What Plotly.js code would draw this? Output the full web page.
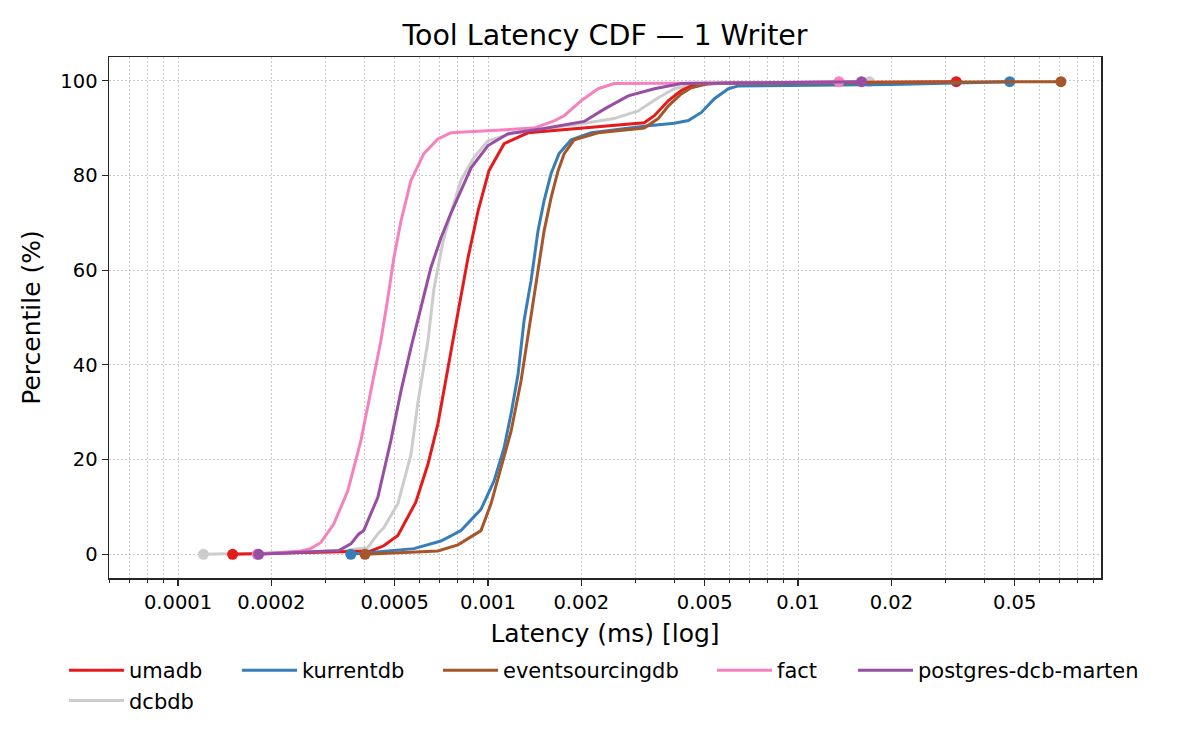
<!DOCTYPE html>
<html>
<head>
<meta charset="utf-8">
<script src="https://cdn.plot.ly/plotly-3.0.1.min.js"></script>
<style>
  html, body { margin: 0; padding: 0; background: #ffffff; }
  #chart { width: 1200px; height: 750px; }
</style>
</head>
<body>
<div id="chart"></div>
<script>
// latency values in ms, percentile values in %
const umadbLatency = [0.000150, 0.000419, 0.000461, 0.000512, 0.000585, 0.000640, 0.000689, 0.000743, 0.000800, 0.000862, 0.000929, 0.001007, 0.001127, 0.001346, 0.002, 0.00319, 0.00344, 0.00382, 0.0042, 0.00463, 0.006, 0.0324];
const umadbPct = [0, 0.7, 1.8, 4, 11, 19, 27.5, 39, 51, 62.6, 72.5, 81, 86.7, 89, 89.9, 91.1, 92.6, 95.8, 97.9, 99.2, 99.5, 99.8];

const kurrentdbLatency = [0.000361, 0.000577, 0.000705, 0.000818, 0.000949, 0.001046, 0.001127, 0.001187, 0.00125, 0.001307, 0.001377, 0.00145, 0.001517, 0.001598, 0.001695, 0.001854, 0.002152, 0.003289, 0.00399, 0.004427, 0.004878, 0.005373, 0.005961, 0.006423, 0.02, 0.0482];
const kurrentdbPct = [0, 1.2, 2.8, 5, 9.5, 15.5, 22.5, 29.7, 38, 49.3, 57.8, 68.3, 74.7, 80.4, 84.6, 87.5, 89, 90.5, 91, 91.6, 93.3, 96.2, 98.3, 98.9, 99.2, 99.8];

const eventsourcingdbLatency = [0.000401, 0.000689, 0.0008, 0.000949, 0.001023, 0.001102, 0.001187, 0.001278, 0.001377, 0.00145, 0.001517, 0.001598, 0.001683, 0.001761, 0.001896, 0.002266, 0.00319, 0.00354, 0.00382, 0.0042, 0.00453, 0.00514, 0.0705];
const eventsourcingdbPct = [0, 0.7, 2, 5, 10.7, 18.3, 26, 36.6, 50.8, 59.9, 68.3, 75.3, 81, 84.6, 87.5, 89, 90, 92, 94.7, 97.2, 98.5, 99.4, 99.8];

const factLatency = [0.00018, 0.000249, 0.000268, 0.000289, 0.000318, 0.000353, 0.000389, 0.000419, 0.000451, 0.000475, 0.000497, 0.000524, 0.000564, 0.000621, 0.000689, 0.000759, 0.001408, 0.001634, 0.001761, 0.002, 0.002266, 0.002553, 0.006, 0.01355];
const factPct = [0, 0.7, 1.2, 2.5, 6.4, 13.4, 24, 34.5, 45, 54, 62.6, 70.4, 78.9, 84.6, 87.7, 89, 90, 91.5, 92.6, 95.8, 98.3, 99.4, 99.5, 99.8];

const martenLatency = [0.000182, 0.000330, 0.000361, 0.000383, 0.000397, 0.000419, 0.000441, 0.000486, 0.000524, 0.000564, 0.000608, 0.000654, 0.000705, 0.000759, 0.000818, 0.000882, 0.001, 0.001161, 0.001517, 0.002043, 0.002371, 0.002833, 0.00344, 0.0042, 0.006, 0.01603];
const martenPct = [0, 0.8, 2.2, 4.3, 5, 8.5, 12, 24, 34.5, 43.6, 52, 60.5, 66.8, 72, 76.8, 81.6, 86.3, 88.8, 89.9, 91.4, 94, 96.8, 98.3, 99.4, 99.5, 99.8];

const dcbdbLatency = [0.0001207, 0.00034, 0.000369, 0.000409, 0.000441, 0.000461, 0.000512, 0.000564, 0.000594, 0.000640, 0.000669, 0.000716, 0.000759, 0.000818, 0.000901, 0.001, 0.001213, 0.002, 0.00255, 0.00305, 0.00354, 0.00399, 0.00453, 0.006, 0.0170];
const dcbdbPct = [0, 0.6, 1.1, 1.4, 4.3, 5.6, 10.7, 21, 32, 45, 56, 66, 72, 79, 83.8, 87.3, 89, 90.9, 92, 93.6, 96.4, 98.3, 99.2, 99.5, 99.8];

const xTickVals = [0.0001, 0.0002, 0.0005, 0.001, 0.002, 0.005, 0.01, 0.02, 0.05];
const xTickText = ["0.0001", "0.0002", "0.0005", "0.001", "0.002", "0.005", "0.01", "0.02", "0.05"];
const yTickVals = [0, 20, 40, 60, 80, 100];

const FONT = "DejaVu Sans, sans-serif";
const INK = "#262626";
const GRID = "#cccccc";
const GRID_DASH = "1.5px,2.5px";

// plot area in pixels, used for placing the legend columns
const PLOT_LEFT = 109;
const PLOT_RIGHT = 1101;
const PLOT_TOP = 57;
const PLOT_BOTTOM = 578;

function paperX(px) {
  return (px - PLOT_LEFT) / (PLOT_RIGHT - PLOT_LEFT);
}

function paperY(py) {
  return (PLOT_BOTTOM - py) / (PLOT_BOTTOM - PLOT_TOP);
}

function minorTickVals() {
  const values = [];
  for (let exp = -5; exp <= -2; exp += 1) {
    for (let m = 1; m <= 9; m += 1) {
      if (m === 1 || m === 2 || m === 5) continue;
      values.push(m * Math.pow(10, exp));
    }
  }
  return values;
}

const series = [
  { name: "dcbdb", x: dcbdbLatency, y: dcbdbPct, color: "#cccccc", legend: "legend", rank: 6 },
  { name: "umadb", x: umadbLatency, y: umadbPct, color: "#e41a1c", legend: "legend", rank: 1 },
  { name: "kurrentdb", x: kurrentdbLatency, y: kurrentdbPct, color: "#377eb8", legend: "legend2", rank: 2 },
  { name: "eventsourcingdb", x: eventsourcingdbLatency, y: eventsourcingdbPct, color: "#a65628", legend: "legend3", rank: 3 },
  { name: "fact", x: factLatency, y: factPct, color: "#f781bf", legend: "legend4", rank: 4 },
  { name: "postgres-dcb-marten", x: martenLatency, y: martenPct, color: "#984ea3", legend: "legend5", rank: 5 },
];

const traces = [];
series.forEach((s) => {
  traces.push({
    type: "scatter",
    mode: "lines",
    name: s.name,
    x: s.x,
    y: s.y,
    line: { color: s.color, width: 3 },
    legend: s.legend,
    legendrank: s.rank,
    hoverinfo: "skip",
  });
  traces.push({
    type: "scatter",
    mode: "markers",
    x: [s.x[0], s.x[s.x.length - 1]],
    y: [s.y[0], s.y[s.y.length - 1]],
    marker: { color: s.color, size: 11 },
    showlegend: false,
    hoverinfo: "skip",
  });
});

function legendAt(linePx) {
  return {
    x: paperX(linePx - 6),
    xanchor: "left",
    y: paperY(650),
    yanchor: "top",
    orientation: "v",
    bgcolor: "rgba(0,0,0,0)",
    borderwidth: 0,
    itemwidth: 55,
    tracegroupgap: 0,
    font: { family: FONT, size: 21, color: "#000000" },
  };
}

const layout = {
  width: 1200,
  height: 750,
  paper_bgcolor: "#ffffff",
  plot_bgcolor: "#ffffff",
  margin: { l: PLOT_LEFT, r: 1200 - PLOT_RIGHT, t: PLOT_TOP, b: 750 - PLOT_BOTTOM, pad: 0 },
  font: { family: FONT, color: "#000000" },
  title: {
    text: "Tool Latency CDF — 1 Writer",
    font: { family: FONT, size: 28.5, color: "#000000" },
    x: paperX(605),
    xref: "paper",
    xanchor: "center",
    y: 1 - 35 / 750,
    yanchor: "middle",
  },
  xaxis: {
    type: "log",
    range: [-4.2226, -1.0226],
    tickmode: "array",
    tickvals: xTickVals,
    ticktext: xTickText,
    ticks: "outside",
    ticklen: 6,
    tickwidth: 1.2,
    tickcolor: INK,
    tickfont: { family: FONT, size: 19.5, color: "#000000" },
    showline: true,
    linecolor: INK,
    linewidth: 1.5,
    mirror: true,
    showgrid: true,
    gridcolor: GRID,
    gridwidth: 1,
    griddash: GRID_DASH,
    zeroline: false,
    minor: {
      tickmode: "array",
      tickvals: minorTickVals(),
      ticks: "outside",
      ticklen: 3.5,
      tickwidth: 1,
      tickcolor: INK,
      showgrid: true,
      gridcolor: GRID,
      gridwidth: 1,
      griddash: GRID_DASH,
    },
    title: {
      text: "Latency (ms) [log]",
      font: { family: FONT, size: 25, color: "#000000" },
      standoff: 11,
    },
    automargin: false,
  },
  yaxis: {
    range: [-5, 105],
    tickmode: "array",
    tickvals: yTickVals,
    ticks: "outside",
    ticklen: 6,
    tickwidth: 1.2,
    tickcolor: INK,
    tickfont: { family: FONT, size: 19.5, color: "#000000" },
    showline: true,
    linecolor: INK,
    linewidth: 1.5,
    mirror: true,
    showgrid: true,
    gridcolor: GRID,
    gridwidth: 1,
    griddash: GRID_DASH,
    zeroline: false,
    title: {
      text: "Percentile (%)",
      font: { family: FONT, size: 25, color: "#000000" },
      standoff: 12,
    },
    automargin: false,
  },
  showlegend: true,
  legend: legendAt(70),
  legend2: legendAt(243),
  legend3: legendAt(444),
  legend4: legendAt(718),
  legend5: legendAt(859),
};

Plotly.newPlot("chart", traces, layout, { displayModeBar: false, responsive: false, staticPlot: true });
</script>
</body>
</html>
